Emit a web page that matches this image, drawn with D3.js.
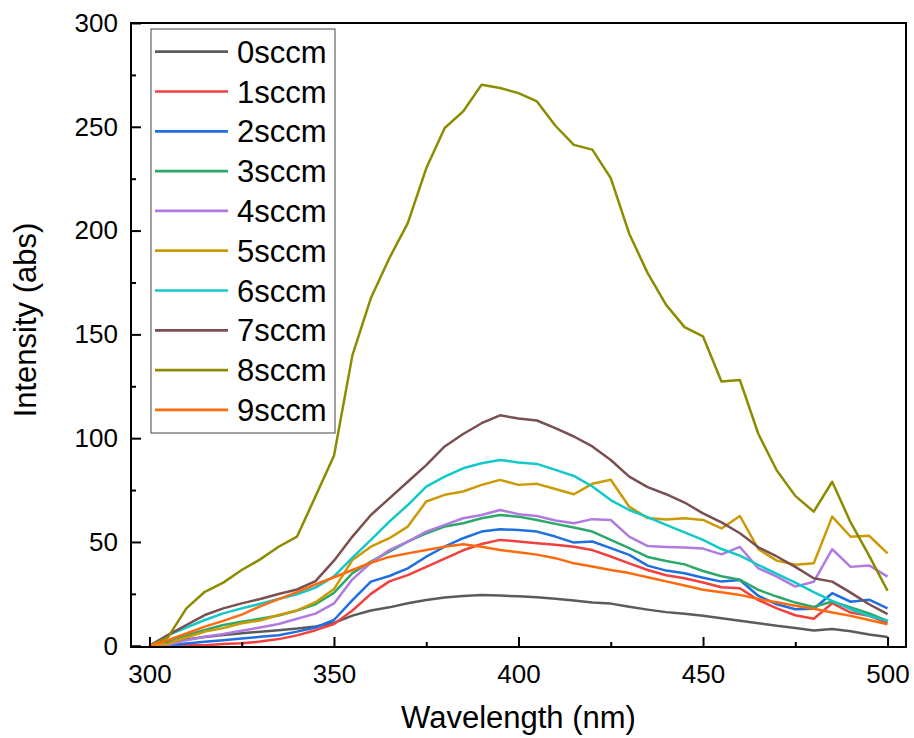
<!DOCTYPE html>
<html>
<head>
<meta charset="utf-8">
<script src="https://cdn.jsdelivr.net/npm/d3@7"></script>
<style>
  body{margin:0;background:#fff;}
  text{font-family:"Liberation Sans",Arial,sans-serif;fill:#000;}
</style>
</head>
<body>
<svg id="chart" width="914" height="738"></svg>
<script>
// wavelength grid (nm) shared by every series
var wavelength=[300,305,310,315,320,325,330,335,340,345,350,355,360,365,370,375,380,385,390,395,400,
  405,410,415,420,425,430,435,440,445,450,455,460,465,470,475,480,485,490,495,500];

var labels=["0sccm","1sccm","2sccm","3sccm","4sccm","5sccm","6sccm","7sccm","8sccm","9sccm"];
var colors=["#5b5b5b","#f2403f","#1f6fe0","#2ca86a","#b07be0","#cc9a06","#12c8c8","#7a4f4f","#8c8c00","#ff6a0e"];

var sccm0=[0.3,1.5,3,4.2,5.2,6,6.8,7.5,8.3,9.3,11,14.5,17,18.5,20.5,22,23.2,24,24.5,24.2,23.8,
  23.4,22.6,21.8,20.8,20.3,18.8,17.4,16.2,15.4,14.4,13.2,12,10.8,9.6,8.6,7.4,8.1,7,5.4,4.2];
var sccm1=[0,0.1,0.2,0.3,0.8,1.2,2,3.2,5,7.5,10.5,17,25,31,34,38,42,46,49,51,50.2,
  49.4,48.6,47.7,46.1,43,39.7,36.5,34,32.5,30.5,28.2,27.7,22,18,14.7,13,20.5,16,14.4,11];
var sccm2=[0,0.2,1.1,1.9,2.7,3.5,4.3,5.1,6.8,8.8,12.4,22,30.9,33.6,37.3,42.9,47.7,51.8,55,56.1,55.8,
  55,52.6,49.7,50.2,47,43.8,38.6,36.2,34.9,32.8,30.9,31.7,24,20,17.6,17.8,25.3,21.2,22.2,18];
var sccm3=[0,2.4,5,7.6,10,11.6,13,14.6,17,20,25.5,35,40.5,45.3,50.2,54.2,57.4,59,61.4,63,62.2,
  60.6,58.7,57,55,51,47,42.8,40.8,39.2,36,33.5,31.8,26.9,23.7,20.8,18.7,21.3,18.5,15.6,12];
var sccm4=[0,0.3,2.7,4.3,5.7,7.2,8.8,10.5,13,15.5,20.4,32,40,46.1,50.2,55,58.2,61.4,63,65.4,63.4,
  62.5,60.3,59,61,60.6,52.6,48,47.6,47.3,46.8,44,47.6,37.3,33.3,28.5,30.8,46.5,38,38.7,33.3];
var sccm5=[0,1,4,6.8,8.5,10.8,12.2,14.8,17,21,27.3,41.3,47.7,51.8,57.4,69.5,72.7,74.3,77.5,79.9,77.5,
  78,75.5,73,78,80,67,61.5,60.8,61.4,60.6,56.5,62.5,46.5,41,39,39.7,62.2,52.5,53,44.5];
var sccm6=[0,5.1,8.8,12.4,15.6,18,20.2,22.5,24.8,28,33.4,42.5,51,59.8,67.8,76.7,81.5,85.5,87.9,89.5,88.3,
  87.6,84.7,81.8,76.7,70.2,65.4,62,58.2,54.6,51,46.6,43.4,38.9,34.6,30.4,25.8,21.6,17.6,14.4,12];
var sccm7=[0,5.1,10,14.8,18,20.4,22.5,24.9,27.1,31.1,41,52.6,63,71,79,87,96,102,107.2,111,109.5,
  108.5,104.8,100.8,96,89.5,81.5,76.4,73,69,63.8,59.4,54.2,47.4,43,38,32.5,30.9,25.6,20,15.2];
var sccm8=[0,4,18,26,30.4,36.5,41.6,47.7,52.6,72,91.5,140,167.5,186.7,203.6,230,249.4,257.4,270.3,268.7,266.2,
  262.2,250.5,241.3,239,225.3,198.5,179.5,164.2,153.5,149,127.3,128,102,84.4,72.2,64.6,79,59.4,43.4,26.5];
var sccm9=[0,2.7,5.9,9.2,12,15,19,22.5,25.8,29.5,33,36.5,40,42.8,44.5,46.1,47.7,48.9,47.7,46.1,45,
  43.9,42.2,39.7,38.2,36.5,35,33,31,29,27,25.8,24.5,22.5,21,19.3,17.8,16,14.4,12.4,10.3];

var xTicks=[300,350,400,450,500];
var xMinor=[325,375,425,475];
var yTicks=[0,50,100,150,200,250,300];
var yMinor=[25,75,125,175,225,275];

var series=[sccm0,sccm1,sccm2,sccm3,sccm4,sccm5,sccm6,sccm7,sccm8,sccm9];

var svg=d3.select("#chart");
var plotLeft=131,plotRight=906,plotTop=23,plotBottom=647;
var x=d3.scaleLinear().domain([295,505]).range([plotLeft,plotRight]);
var y=d3.scaleLinear().domain([-0.6,300]).range([plotBottom,plotTop]);

svg.append("defs").append("clipPath").attr("id","plot")
  .append("rect").attr("x",plotLeft).attr("y",plotTop)
  .attr("width",plotRight-plotLeft).attr("height",plotBottom-plotTop);

// curves
var line=d3.line()
  .x(function(d,i){return x(wavelength[i]);})
  .y(function(d){return y(d);});

svg.append("g").attr("clip-path","url(#plot)")
  .selectAll("path").data(series).enter().append("path")
  .attr("d",line)
  .attr("fill","none")
  .attr("stroke",function(d,i){return colors[i];})
  .attr("stroke-width",2.5)
  .attr("stroke-linejoin","round");

// axes, ticks pointing inward
svg.append("g").attr("transform","translate(0,"+plotBottom+")")
  .call(d3.axisBottom(x).tickValues(xTicks).tickSize(-10).tickPadding(18));
svg.append("g").attr("transform","translate(0,"+plotBottom+")")
  .call(d3.axisBottom(x).tickValues(xMinor).tickSize(-5).tickFormat(""));
svg.append("g").attr("transform","translate("+plotLeft+",0)")
  .call(d3.axisLeft(y).tickValues(yTicks).tickSize(-10).tickPadding(13));
svg.append("g").attr("transform","translate("+plotLeft+",0)")
  .call(d3.axisLeft(y).tickValues(yMinor).tickSize(-5).tickFormat(""));

svg.selectAll(".domain").remove();
svg.selectAll(".tick line").attr("stroke","#000").attr("stroke-width",2);
svg.selectAll(".tick text").style("font-size","26px").attr("fill","#000");

svg.append("rect")
  .attr("x",plotLeft).attr("y",plotTop)
  .attr("width",plotRight-plotLeft).attr("height",plotBottom-plotTop)
  .attr("fill","none").attr("stroke","#000").attr("stroke-width",2);

// axis titles
svg.append("text")
  .attr("x",(plotLeft+plotRight)/2).attr("y",728)
  .attr("text-anchor","middle").style("font-size","31px")
  .text("Wavelength (nm)");
svg.append("text")
  .attr("transform","translate(36,320) rotate(-90)")
  .attr("text-anchor","middle").style("font-size","31px")
  .text("Intensity (abs)");

// legend
var legend=svg.append("g");
legend.append("rect")
  .attr("x",151).attr("y",29).attr("width",184).attr("height",404)
  .attr("fill","#fff").attr("stroke","#444").attr("stroke-width",1);
var rows=legend.selectAll("g.row").data(labels).enter().append("g")
  .attr("class","row")
  .attr("transform",function(d,i){return "translate(0,"+(51.7+i*39.8)+")";});
rows.append("line")
  .attr("x1",155).attr("x2",228)
  .attr("stroke",function(d,i){return colors[i];})
  .attr("stroke-width",2.7);
rows.append("text")
  .attr("x",237).attr("y",11)
  .style("font-size","31px")
  .text(function(d){return d;});
</script>
</body>
</html>
